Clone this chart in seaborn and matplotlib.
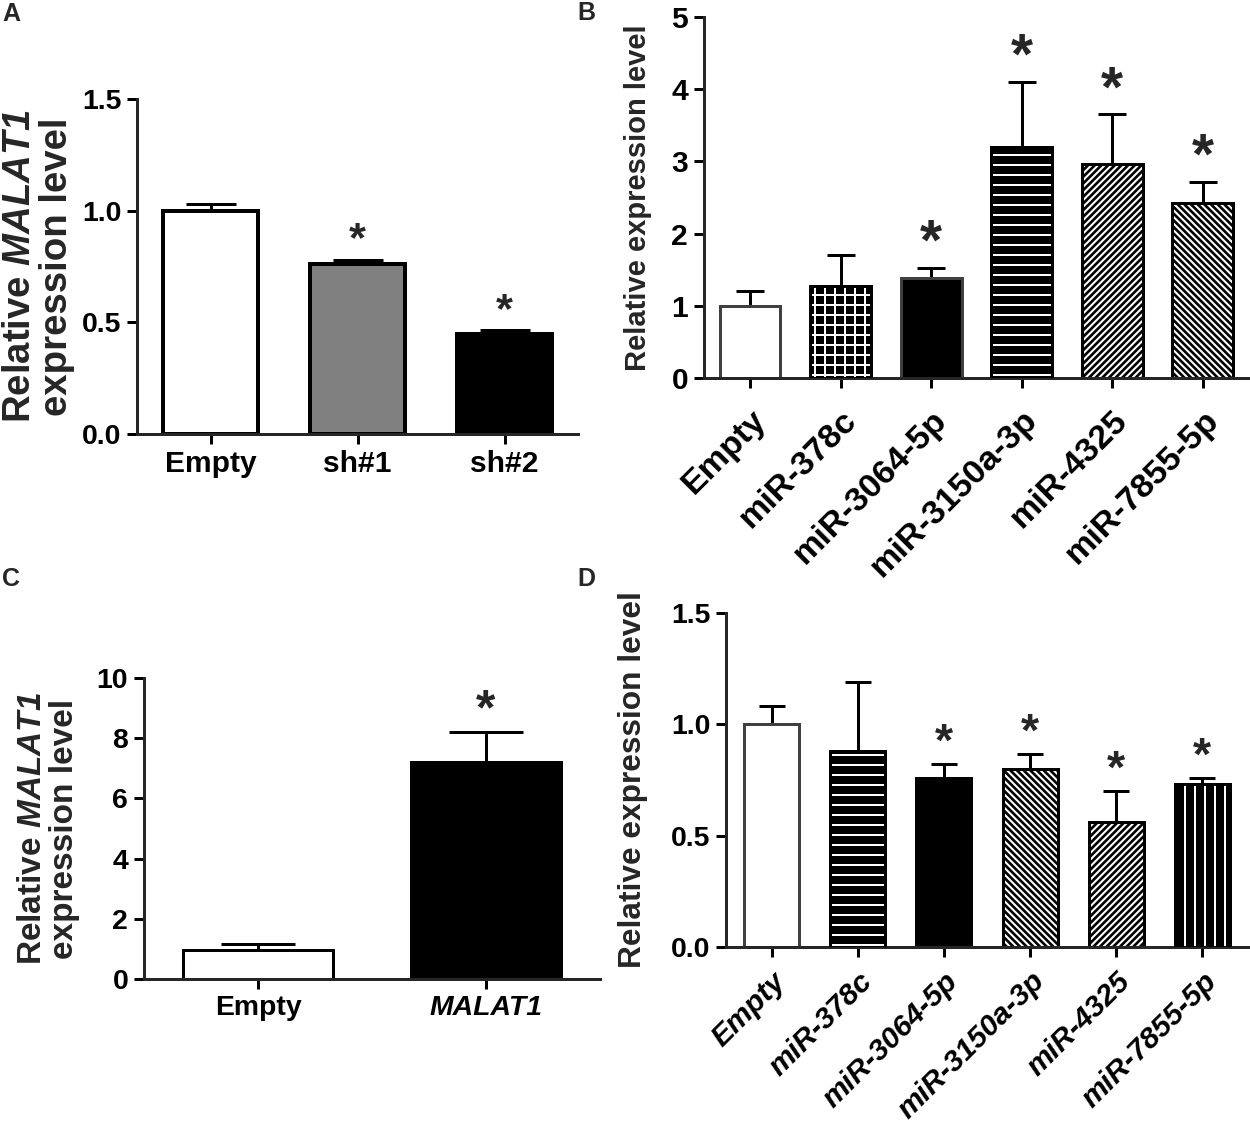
import numpy as np
import pandas as pd
import seaborn as sns
import matplotlib.pyplot as plt
from matplotlib.patches import Rectangle

# panel A: MALAT1 knockdown
a_groups = ["Empty", "sh#1", "sh#2"]
a_values = [1.00, 0.76, 0.45]
a_errors = [0.03, 0.02, 0.015]
a_stars = [False, True, True]

# panel B: miRNA expression after knockdown
b_groups = ["Empty", "miR-378c", "miR-3064-5p", "miR-3150a-3p", "miR-4325", "miR-7855-5p"]
b_values = [1.00, 1.28, 1.38, 3.20, 2.97, 2.42]
b_errors = [0.20, 0.42, 0.14, 0.90, 0.68, 0.30]
b_stars = [False, False, True, True, True, True]

# panel C: MALAT1 overexpression
c_groups = ["Empty", "MALAT1"]
c_values = [0.98, 7.20]
c_errors = [0.17, 1.00]
c_stars = [False, True]

# panel D: miRNA expression after overexpression
d_groups = ["Empty", "miR-378c", "miR-3064-5p", "miR-3150a-3p", "miR-4325", "miR-7855-5p"]
d_values = [1.00, 0.88, 0.76, 0.80, 0.56, 0.73]
d_errors = [0.08, 0.31, 0.06, 0.065, 0.14, 0.03]
d_stars = [False, False, True, True, True, True]

sns.set_style("ticks")
plt.rcParams["font.family"] = ["Liberation Sans", "DejaVu Sans"]
plt.rcParams["font.weight"] = "bold"
plt.rcParams["mathtext.fontset"] = "custom"
plt.rcParams["mathtext.rm"] = "Liberation Sans:italic:bold"
plt.rcParams["mathtext.bf"] = "Liberation Sans:italic:bold"
plt.rcParams["mathtext.it"] = "Liberation Sans:italic:bold"
plt.rcParams["hatch.linewidth"] = 1.3
plt.rcParams["axes.linewidth"] = 1.8

fig = plt.figure(figsize=(1250 / 120, 1133 / 120), dpi=120)


def draw_panel(rect, groups, values, errors, stars, styles, width, xlim, ylim, yticks, yfmt,
               ylabel, ylab_x, ysize, xsize, labsize, starsize, capsize, rotate=False,
               italic=None, edge_lw=1.8, xpad=3.5):
    ax = fig.add_axes(rect)
    df = pd.DataFrame({"group": groups, "value": values})
    sns.barplot(data=df, x="group", y="value", order=groups, errorbar=None,
                width=width, color="white", ax=ax, zorder=2)
    for p, (face, edge, hatch) in zip(ax.patches, styles):
        p.set_facecolor(face)
        if hatch and face == "black":
            # white hatch lines on a black bar, outline drawn on top
            p.set_hatch(hatch)
            p.set_edgecolor("white")
            p.set_linewidth(0)
            if hasattr(p, "set_hatch_linewidth"):
                p.set_hatch_linewidth(1.2)
            ax.add_patch(Rectangle(p.get_xy(), p.get_width(), p.get_height(), fill=False,
                                   edgecolor=edge, linewidth=edge_lw, zorder=3))
        else:
            if hatch:
                p.set_hatch(hatch)
                if hasattr(p, "set_hatch_linewidth"):
                    p.set_hatch_linewidth(1.6)
            p.set_edgecolor(edge)
            p.set_linewidth(edge_lw)
    x = np.arange(len(groups))
    ax.errorbar(x, values, yerr=[np.zeros(len(groups)), errors], fmt="none",
                ecolor="black", elinewidth=1.8, capsize=capsize, capthick=1.8, zorder=1)
    for i, s in enumerate(stars):
        if s:
            ax.annotate("*", xy=(i, values[i] + errors[i]), xytext=(0, 5),
                        textcoords="offset points", ha="center", va="baseline",
                        fontsize=starsize, fontweight="bold")
    ax.set_xlim(*xlim)
    ax.set_ylim(*ylim)
    ax.set_yticks(yticks)
    ax.set_yticklabels([yfmt.format(t) for t in yticks], fontsize=ysize, fontweight="bold")
    ax.set_xlabel("")
    ax.set_xticks(x)
    if rotate:
        ax.set_xticklabels(groups, rotation=45, ha="right", va="top", rotation_mode="anchor",
                           fontsize=xsize, fontweight="bold",
                           fontstyle="italic" if italic == "all" else "normal")
    else:
        ax.set_xticklabels(groups, fontsize=xsize, fontweight="bold")
        if italic is not None:
            for lab in ax.get_xticklabels():
                if lab.get_text() in italic:
                    lab.set_fontstyle("italic")
    ax.set_ylabel(ylabel, fontsize=labsize, fontweight="bold", linespacing=1.05)
    ax.yaxis.set_label_coords(ylab_x, 0.5)
    ax.tick_params(width=1.8, length=6, colors="black")
    ax.tick_params(axis="x", pad=xpad)
    sns.despine(ax=ax)
    return ax


draw_panel([0.1096, 0.6169, 0.3528, 0.2957], a_groups, a_values, a_errors, a_stars,
           [("white", "black", None), ("#808080", "black", None), ("black", "black", None)],
           0.65, (-0.5, 2.5), (0, 1.5), [0, 0.5, 1.0, 1.5], "{:.1f}",
           "Relative $\\mathit{MALAT1}$\nexpression level", -0.14, 17, 18, 23, 26, 15,
           edge_lw=2.4)

draw_panel([0.5632, 0.6664, 0.4352, 0.3186], b_groups, b_values, b_errors, b_stars,
           [("white", "#404040", None), ("black", "black", "++"), ("black", "#404040", None),
            ("black", "black", "--"), ("white", "black", "//////"), ("white", "black", "\\\\\\\\\\\\")],
           0.67, (-0.51, 5.5), (0, 5), [0, 1, 2, 3, 4, 5], "{:d}",
           "Relative expression level", -0.095, 18, 20.5, 17.5, 34, 8.5, rotate=True, xpad=10)

draw_panel([0.1152, 0.1359, 0.3648, 0.2657], c_groups, c_values, c_errors, c_stars,
           [("white", "black", None), ("black", "black", None)],
           0.66, (-0.5, 1.5), (0, 10), [0, 2, 4, 6, 8, 10], "{:d}",
           "Relative $\\mathit{MALAT1}$\nexpression level", -0.14, 17, 17, 20, 30, 22,
           italic=["MALAT1"])

draw_panel([0.5808, 0.1642, 0.4176, 0.2948], d_groups, d_values, d_errors, d_stars,
           [("white", "#404040", None), ("black", "black", "--"), ("black", "black", None),
            ("white", "black", "\\\\\\\\\\\\"), ("white", "black", "//////"), ("black", "black", "||")],
           0.64, (-0.53, 5.53), (0, 1.5), [0, 0.5, 1.0, 1.5], "{:.1f}",
           "Relative expression level", -0.15, 17, 18, 19, 28, 8, rotate=True, italic="all",
           xpad=6)

for x, y, letter in [(0.0016, 0.998, "A"), (0.4616, 0.999, "B"), (0.0016, 0.500, "C"), (0.4616, 0.500, "D")]:
    fig.text(x, y, letter, fontsize=15, fontweight="bold", va="top", ha="left")

fig.savefig("out.png", dpi=120)
